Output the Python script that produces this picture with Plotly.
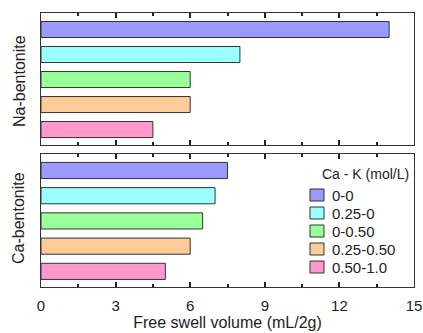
import plotly.graph_objects as go

series = ["0-0", "0.25-0", "0-0.50", "0.25-0.50", "0.50-1.0"]
na_values = [14, 8, 6, 6, 4.5]
ca_values = [7.5, 7.0, 6.5, 6.0, 5.0]
colors = ["#9999ff", "#99ffff", "#99ff99", "#ffcc99", "#ff99cc"]
legend_title = "Ca - K (mol/L)"

W, H = 423, 333
L, R, T, B = 41, 9, 13, 46
PW, PH = W - L - R, H - T - B


def px(x):
    return (x - L) / PW


def py(y):
    return (H - B - y) / PH


edge = "#333333"
fig = go.Figure()
for i, s in enumerate(series):
    pos = 4 - i
    fig.add_trace(go.Bar(x=[na_values[i]], y=[pos], orientation="h", name=s,
                         marker=dict(color=colors[i], line=dict(color=edge, width=1)),
                         width=0.64, xaxis="x2", yaxis="y2", showlegend=False))
    fig.add_trace(go.Bar(x=[ca_values[i]], y=[pos], orientation="h", name=s,
                         marker=dict(color=colors[i], line=dict(color=edge, width=1)),
                         width=0.64, xaxis="x", yaxis="y", showlegend=False))

font = "Liberation Sans, Arial, sans-serif"
axis_common = dict(range=[0, 15], tickmode="linear", tick0=0, dtick=3, ticks="inside", ticklen=5, tickwidth=1.5,
                   tickcolor="#222222", automargin=False,
                   showline=True, linecolor=edge, linewidth=1, mirror="allticks",
                   showgrid=False, zeroline=False,
                   minor=dict(ticks="inside", dtick=1.5, ticklen=3, tickwidth=1.5, tickcolor="#222222"))
yax_common = dict(range=[-0.62, 4.66], showticklabels=False, ticks="", showline=True, automargin=False,
                  linecolor=edge, linewidth=1, mirror=True, showgrid=False, zeroline=False)

shapes = []
annotations = [
    dict(text="Na-bentonite", xref="paper", yref="paper", x=px(19), y=py(81), textangle=-90,
         showarrow=False, font=dict(size=16), xanchor="center", yanchor="middle"),
    dict(text="Ca-bentonite", xref="paper", yref="paper", x=px(19), y=py(218), textangle=-90,
         showarrow=False, font=dict(size=16), xanchor="center", yanchor="middle"),
    dict(text=legend_title, xref="paper", yref="paper", x=px(411), y=py(174), showarrow=False,
         font=dict(size=14), xanchor="right", yanchor="middle"),
]
for i, s in enumerate(series):
    cy = 195 + 18 * i
    shapes.append(dict(type="rect", xref="paper", yref="paper", x0=px(310), x1=px(324),
                       y0=py(cy - 6), y1=py(cy + 6), fillcolor=colors[i], line=dict(color=edge, width=1)))
    annotations.append(dict(text=s, xref="paper", yref="paper", x=px(330), y=py(cy), showarrow=False,
                            font=dict(size=15), xanchor="left", yanchor="middle"))

fig.update_layout(
    width=W, height=H,
    margin=dict(l=L, r=R, t=T, b=B),
    plot_bgcolor="white", paper_bgcolor="white",
    font=dict(family=font, size=15, color="#222222"),
    barmode="overlay", showlegend=False,
    xaxis=dict(domain=[0, 1], anchor="y", tickfont=dict(size=15), ticklabelstandoff=5,
               title=dict(text="Free swell volume (mL/2g)", font=dict(size=16), standoff=2), **axis_common),
    yaxis=dict(domain=[0, 0.486], anchor="x", **yax_common),
    xaxis2=dict(domain=[0, 1], anchor="y2", showticklabels=False, **axis_common),
    yaxis2=dict(domain=[0.518, 1], anchor="x2", **yax_common),
    shapes=shapes, annotations=annotations,
)
fig.write_html("out.html", config={"displayModeBar": False},
               post_script="document.body.style.margin='0';document.body.style.overflow='hidden';")
